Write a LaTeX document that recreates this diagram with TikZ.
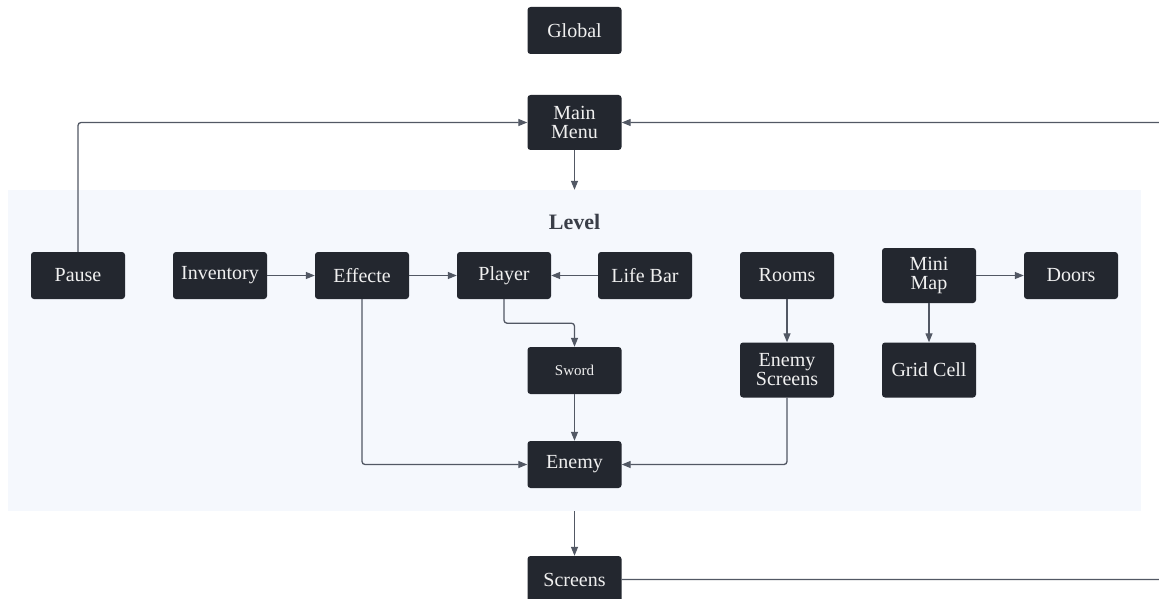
\documentclass[tikz,border=0pt]{standalone}
\usepackage{fontspec}
\setmainfont{Liberation Serif}
\usepackage{xcolor}
\usepackage{tikz}
\usetikzlibrary{arrows.meta, positioning}

\definecolor{boxdark}{RGB}{35,39,47}
\definecolor{linegray}{RGB}{82,88,100}
\definecolor{levelbg}{RGB}{245,248,253}
\definecolor{titlegray}{RGB}{58,62,72}

\begin{document}
\begin{tikzpicture}[
          x=1pt, y=-1pt,
          block/.style={rectangle, rounded corners=3pt, fill=boxdark, text=white!94!black,
            minimum width=94pt, minimum height=47pt, align=center,
            font=\rmfamily\fontsize{20}{19}\selectfont, inner sep=2pt},
          tall/.style={block, minimum height=55pt},
          small/.style={block, font=\rmfamily\fontsize{15}{15}\selectfont},
          link/.style={draw=linegray, line width=1.3pt, rounded corners=3pt,
            -{Triangle[length=9pt, width=7pt]}}
        ]
          \useasboundingbox (0,0) rectangle (1159,599);
          \clip (0,0) rectangle (1159,599);
          \fill[white] (0,0) rectangle (1159,599);

          \node[fill=levelbg, minimum width=1133pt, minimum height=321pt, inner sep=0pt] (level) at (574.5,350.5) {};
          \node[text=titlegray, font=\rmfamily\fontsize{22}{22}\selectfont\bfseries] (leveltitle) at (574.5,222) {Level};

          \node[block] (global) at (574.5,30.5) {Global};
          \node[tall] (mainmenu) at (574.5,122.5) {Main\\Menu};
          \node[block] (pause) at (78,275.5) {Pause};
          \node[block] (inventory) at (220,275.5) {Inventory};
          \node[block] (effecte) at (362,275.5) {Effecte};
          \node[block] (player) at (504,275.5) {Player};
          \node[block] (lifebar) at (645,275.5) {Life Bar};
          \node[block] (rooms) at (787,275.5) {Rooms};
          \node[tall] (minimap) at (929,275.5) {Mini\\Map};
          \node[block] (doors) at (1071,275.5) {Doors};
          \node[small] (sword) at (574.5,370.5) {Sword};
          \node[tall] (enemyscreens) at (787,370) {Enemy\\Screens};
          \node[tall] (gridcell) at (929,370) {Grid Cell};
          \node[block] (enemy) at (574.5,464.5) {Enemy};
          \node[block] (screens) at (574.5,579.5) {Screens};

          \coordinate (loopbot) at (1185,579.5);
          \coordinate (looptop) at (1185,122.5);

          \draw[link] (pause.north) |- (mainmenu.west);
          \draw[link] (mainmenu.south) -- (mainmenu.south |- level.north);
          \draw[link] (mainmenu.south |- level.south) -- (screens.north);
          \draw[link] (screens.east) -- (loopbot) -- (looptop) -- (mainmenu.east);
          \draw[link] (inventory) -- (effecte);
          \draw[link] (effecte) -- (player);
          \draw[link] (lifebar) -- (player);
          \draw[link] (player.south) -- ++(0,24) -| (sword.north);
          \draw[link] (sword) -- (enemy);
          \draw[link] (effecte.south) |- (enemy.west);
          \draw[link] (enemyscreens.south) |- (enemy.east);
          \draw[link] (rooms) -- (enemyscreens);
          \draw[link] (minimap) -- (gridcell);
          \draw[link] (minimap) -- (doors);
        \end{tikzpicture}
\end{document}
